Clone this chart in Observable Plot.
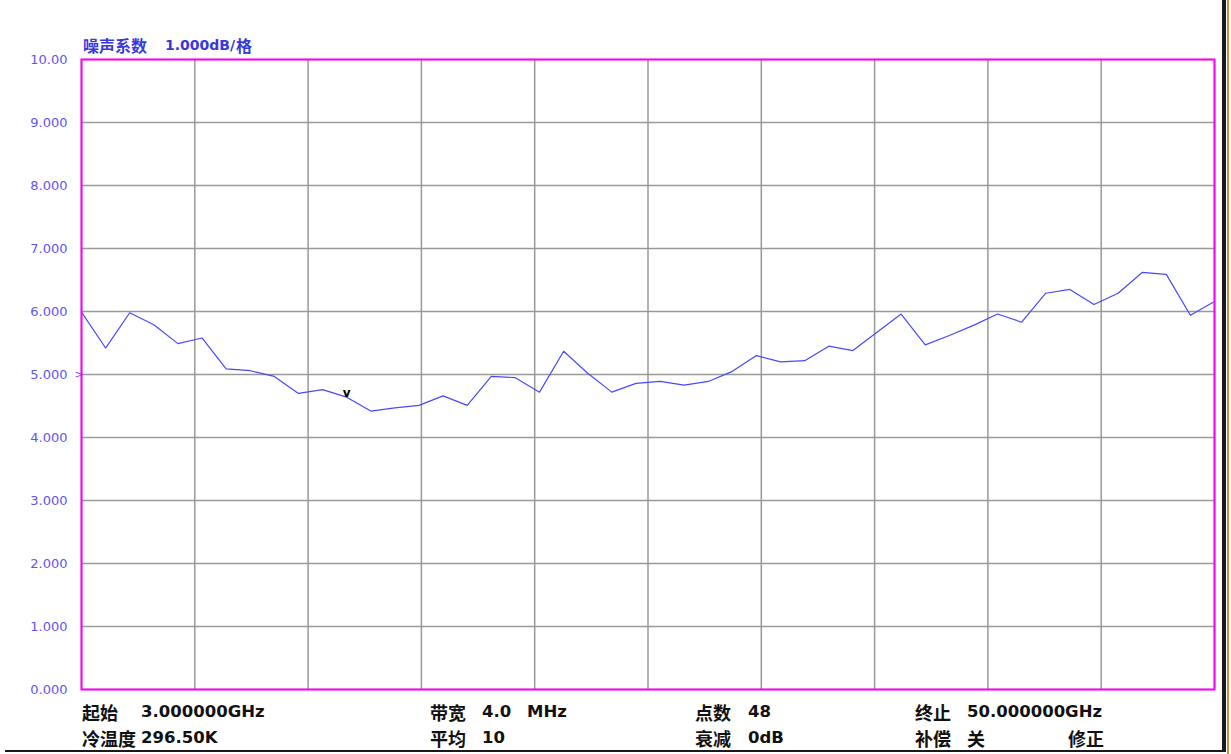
<!DOCTYPE html>
<html><head><meta charset="utf-8">
<script src="https://cdn.jsdelivr.net/npm/d3@7"></script>
<script src="https://cdn.jsdelivr.net/npm/@observablehq/plot@0.6"></script>
<style>
html,body{margin:0;padding:0;background:#fff;}
#wrap{position:relative;width:1231px;height:754px;overflow:hidden;font-family:"Noto Sans CJK SC","Noto Sans",sans-serif;}
#wrap svg{position:absolute;left:0;top:0;}
.t{position:absolute;white-space:pre;line-height:1;font-weight:bold;}
.cjk{font-family:"Noto Sans CJK SC",sans-serif;font-size:18px;color:#111;}
.lat{font-family:"DejaVu Sans",sans-serif;font-size:16.5px;color:#111;}
.tcjk{font-family:"Noto Sans CJK SC",sans-serif;font-size:16px;color:#3838e0;}
.tlat{font-family:"DejaVu Sans",sans-serif;font-size:14px;color:#3838e0;}
</style></head>
<body><div id="wrap"></div>
<script>
// Frequency axis: 48 points, 3 GHz .. 50 GHz
const startGHz = 3;
const stopGHz = 50;
const nPoints = 48;
const freqs = Array.from({length: nPoints}, (_, i) => startGHz + i);
// Noise figure (dB)
const noiseFigure = [
  5.99, 5.42, 5.98, 5.79, 5.49, 5.58, 5.09, 5.06, 4.97, 4.70,
  4.76, 4.64, 4.42, 4.47, 4.51, 4.66, 4.51, 4.97, 4.95, 4.72,
  5.37, 5.02, 4.72, 4.86, 4.89, 4.83, 4.89, 5.05, 5.30, 5.20,
  5.22, 5.45, 5.38, 5.67, 5.96, 5.47, 5.62, 5.78, 5.96, 5.83,
  6.29, 6.35, 6.11, 6.29, 6.62, 6.59, 5.94, 6.16
];
const yTicks = [0,1,2,3,4,5,6,7,8,9,10];
const xDivisions = 10;
const xGrid = Array.from({length: xDivisions + 1}, (_, k) => startGHz + k * (stopGHz - startGHz) / xDivisions);
const refLevel = 5;
const markerIndex = 11;

const data = freqs.map((f, i) => ({f, v: noiseFigure[i]}));
const yFmt = d => d === 10 ? "10.00" : d3.format(".3f")(d);

const chart = Plot.plot({
  width: 1231,
  height: 754,
  marginLeft: 81,
  marginRight: 17,
  marginTop: 59,
  marginBottom: 65,
  style: {fontFamily: "'DejaVu Sans','Noto Sans',sans-serif", background: "transparent"},
  x: {domain: [startGHz, stopGHz], axis: null},
  y: {domain: [0, 10], label: null},
  marks: [
    Plot.gridX(xGrid, {stroke: "#999", strokeOpacity: 1, strokeWidth: 1.5}),
    Plot.gridY(yTicks, {stroke: "#999", strokeOpacity: 1, strokeWidth: 1.5}),
    Plot.axisY({ticks: yTicks, tickSize: 0, tickPadding: 14, fill: "#5f55f5", fontSize: 13,
      label: null, tickFormat: yFmt}),
    Plot.line(data, {x: "f", y: "v", stroke: "#4848ff", strokeWidth: 1.2}),
    Plot.text([data[markerIndex]], {x: "f", y: "v", text: () => "v", fill: "#000", fontSize: 12, fontWeight: "bold", dy: -4}),
    Plot.text([refLevel], {y: d => d, frameAnchor: "left", text: () => ">", dx: -7, fill: "#5f55f5", fontSize: 11}),
    Plot.frame({stroke: "#ff00ff", strokeWidth: 2})
  ]
});
const wrap = document.getElementById("wrap");
wrap.appendChild(chart);

function addText(txt, left, centerY, cls) {
  const d = document.createElement("div");
  d.className = "t " + cls;
  d.textContent = txt;
  d.style.left = left + "px";
  d.style.top = centerY + "px";
  d.style.transform = "translateY(-50%)";
  wrap.appendChild(d);
}
addText("噪声系数", 83, 45, "tcjk");
addText("1.000dB/", 165, 45, "tlat");
addText("格", 236, 45, "tcjk");

const infoRows = [
  ["起始", 82, 712, "cjk"], ["3.000000GHz", 141, 712, "lat"],
  ["冷温度", 82, 738, "cjk"], ["296.50K", 141, 738, "lat"],
  ["带宽", 430, 712, "cjk"], ["4.0", 482, 712, "lat"], ["MHz", 527, 712, "lat"],
  ["平均", 430, 738, "cjk"], ["10", 482, 738, "lat"],
  ["点数", 695, 712, "cjk"], ["48", 748, 712, "lat"],
  ["衰减", 695, 738, "cjk"], ["0dB", 748, 738, "lat"],
  ["终止", 915, 712, "cjk"], ["50.000000GHz", 967, 712, "lat"],
  ["补偿", 915, 738, "cjk"], ["关", 967, 738, "cjk"],
  ["修正", 1068, 738, "cjk"]
];
infoRows.forEach(([t, x, y, c]) => addText(t, x, y, c));

// window border lines
const r = document.createElement("div");
r.style.cssText = "position:absolute;left:1222px;top:0;width:4px;height:752px;background:#1a1a1a;";
wrap.appendChild(r);
const r2 = document.createElement("div");
r2.style.cssText = "position:absolute;left:1227px;top:0;width:2px;height:754px;background:#c8904a;";
wrap.appendChild(r2);
const b = document.createElement("div");
b.style.cssText = "position:absolute;left:5px;top:750px;width:1221px;height:2px;background:#1a1a1a;";
wrap.appendChild(b);
</script></body></html>
